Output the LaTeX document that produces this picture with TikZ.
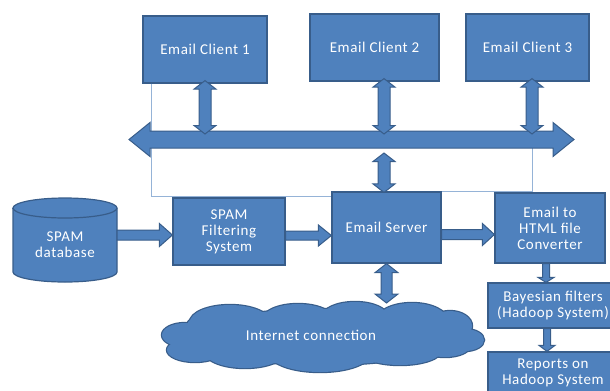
\documentclass[tikz,border=0pt]{standalone}
\usepackage{fontspec}
\setmainfont[LetterSpace=4]{Carlito}
\usetikzlibrary{calc}

\definecolor{boxc}{HTML}{4F81BD}
\definecolor{bordc}{HTML}{385D8A}
\definecolor{linkc}{HTML}{95B3D7}

% single block arrow: start, end, shaft half width, head half width, head length
\newcommand\blockarrow[5]{%
  \coordinate (ba) at #1; \coordinate (bb) at #2;
  \coordinate (bh) at ($(bb)!#5!(ba)$);
  \filldraw[blk] ($(ba)!#3!90:(bb)$) -- ($(bh)!#3!90:(bb)$) -- ($(bh)!#4!90:(bb)$)
    -- (bb) -- ($(bh)!#4!-90:(bb)$) -- ($(bh)!#3!-90:(bb)$) -- ($(ba)!#3!-90:(bb)$) -- cycle;}

% double block arrow: same arguments, heads at both ends
\newcommand\dblarrow[5]{%
  \coordinate (ba) at #1; \coordinate (bb) at #2;
  \coordinate (ha) at ($(ba)!#5!(bb)$); \coordinate (hb) at ($(bb)!#5!(ba)$);
  \filldraw[blk] (ba) -- ($(ha)!#4!90:(bb)$) -- ($(ha)!#3!90:(bb)$) -- ($(hb)!#3!90:(bb)$)
    -- ($(hb)!#4!90:(bb)$) -- (bb) -- ($(hb)!#4!-90:(bb)$) -- ($(hb)!#3!-90:(bb)$)
    -- ($(ha)!#3!-90:(bb)$) -- ($(ha)!#4!-90:(bb)$) -- cycle;}

% puffs of the cloud: centre x / centre y / x radius / y radius
\newcommand\puffs{322/337/130/28, 230/322/40/17, 298/319/35/15, 355/317/33/15,
  412/321/36/18, 450/326/22/15, 465/340/19/11, 445/346/25/11, 400/350/42/15,
  320/354/50/18, 245/352/40/16, 195/350/28/12, 185/335/23/12, 205/326/18/11}

\tikzset{
  box/.style={draw=bordc, fill=boxc, line width=1.2bp, text=white, align=center,
    font=\fontsize{15bp}{16bp}\selectfont, inner sep=0pt},
  blk/.style={draw=bordc, fill=boxc, line width=1bp, line join=miter},
  link/.style={draw=linkc, line width=0.8bp},
  lbl/.style={text=white, align=center, font=\fontsize{15bp}{16bp}\selectfont, inner sep=0pt}
}

\begin{document}
\begin{tikzpicture}[x=1bp, y=-1bp]
\useasboundingbox (0,0) rectangle (610,390);
\clip (0,0) rectangle (610,390);

% boxes
\node[box, minimum width=124bp, minimum height=67bp] (c1) at (205,49.5) {Email Client 1};
\node[box, minimum width=129bp, minimum height=67bp] (c2) at (374.5,47.5) {Email Client 2};
\node[box, minimum width=123bp, minimum height=67bp] (c3) at (527.5,47.5) {Email Client 3};
\node[box, minimum width=109bp, minimum height=71bp] (srv) at (386.5,227.5) {Email Server};
\node[box, minimum width=112bp, minimum height=67bp] (flt) at (229,231.5) {SPAM\\Filtering\\System};
\node[box, minimum width=110bp, minimum height=70bp] (conv) at (550,228) {Email to\\HTML file\\Converter};
\node[box, minimum width=130bp, minimum height=45bp] (bay) at (553,305.5) {Bayesian filters\\(Hadoop System)};
\node[box, minimum width=130bp, minimum height=42bp] (rep) at (553,373) {Reports on\\Hadoop System};

% bus end points
\coordinate (busL) at (129,139.5);
\coordinate (busR) at (574,139.5);
\coordinate (busmid) at (351.5,139.5);
\coordinate (buslow) at (351.5,148);

% thin elbow connectors
\draw[link] ([xshift=9bp]c1.south west) |- ([yshift=-5bp]srv.north west);
\draw[link] ([xshift=4.5bp]c3.south |- buslow) |- (srv.north east);

% database cylinder
\filldraw[blk, line width=1.2bp] (13,208) -- (13,272)
  arc[start angle=180, end angle=360, x radius=52bp, y radius=10bp]
  -- (117,208) arc[start angle=0, end angle=180, x radius=52bp, y radius=10bp] -- cycle;
\draw[bordc, line width=1.2bp] (13,208) arc[start angle=180, end angle=360, x radius=52bp, y radius=10bp];
\node[lbl] (db) at (65,245) {SPAM\\database};
\coordinate (dbr) at (117,235);

% cloud: outlined puffs, then the same puffs filled over their inner edges
\foreach \cx/\cy/\rx/\ry in \puffs
  \draw[bordc, line width=2.4bp] (\cx,\cy) ellipse[x radius=\rx bp, y radius=\ry bp];
\foreach \cx/\cy/\rx/\ry in \puffs
  \fill[boxc] (\cx,\cy) ellipse[x radius=\rx bp, y radius=\ry bp];
\coordinate (nettop) at (386,303);
\node[lbl] (net) at (311,335) {Internet connection};

% bus
\dblarrow{(busL)}{(busR)}{8.5bp}{17bp}{21bp}

% clients to bus
\dblarrow{([yshift=3bp]c1.south)}{([yshift=5.5bp]c1.south |- busmid)}{6bp}{11bp}{8.5bp}
\dblarrow{([xshift=9.5bp,yshift=3bp]c2.south)}{([xshift=9.5bp,yshift=5.5bp]c2.south |- busmid)}{6bp}{11bp}{8.5bp}
\dblarrow{([xshift=4.5bp,yshift=3bp]c3.south)}{([xshift=4.5bp,yshift=5.5bp]c3.south |- busmid)}{6bp}{11bp}{8.5bp}

% bus to server, server to cloud
\dblarrow{([xshift=-2.5bp,yshift=-5bp]srv.north |- buslow)}{([xshift=-2.5bp,yshift=-1bp]srv.north)}{6bp}{11bp}{8.5bp}
\dblarrow{(srv.south)}{(nettop -| srv.south)}{5.5bp}{11.5bp}{9bp}

% flow arrows
\blockarrow{(dbr)}{(flt.west |- dbr)}{5bp}{11.5bp}{13bp}
\blockarrow{([yshift=-4bp]flt.east)}{([yshift=-4bp]flt.east -| srv.west)}{4.5bp}{10.5bp}{13bp}
\blockarrow{([yshift=-7bp]srv.east)}{([yshift=-7bp]srv.east -| conv.west)}{5bp}{11bp}{12bp}
\blockarrow{([xshift=-4bp]conv.south)}{([xshift=-4bp]conv.south |- bay.north)}{3.5bp}{8bp}{5bp}
\blockarrow{([xshift=-6bp]bay.south)}{([xshift=-6bp]bay.south |- rep.north)}{3.5bp}{8bp}{6bp}
\end{tikzpicture}
\end{document}
